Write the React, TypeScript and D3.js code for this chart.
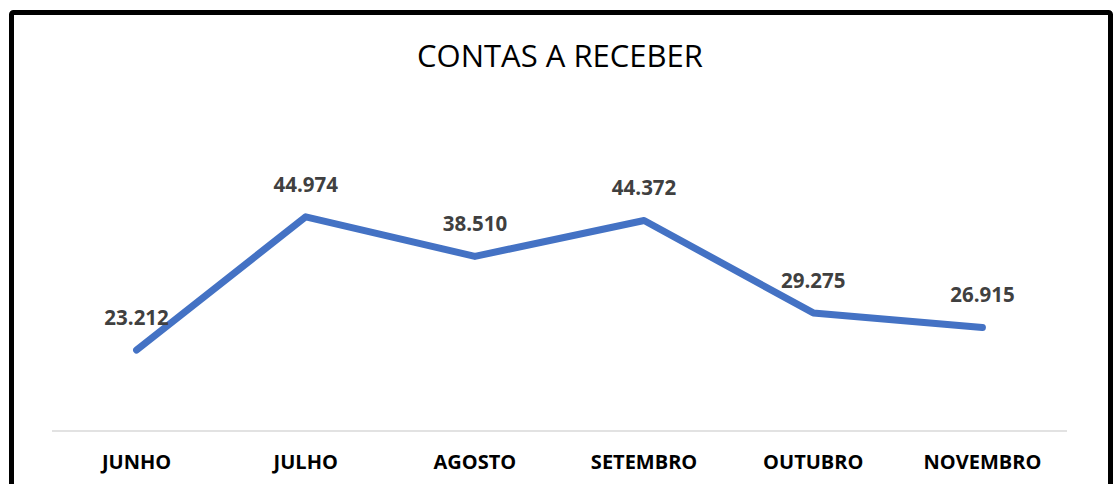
import React from 'react';
import * as d3 from 'd3';

const months = ['JUNHO', 'JULHO', 'AGOSTO', 'SETEMBRO', 'OUTUBRO', 'NOVEMBRO'];
const values = [23.212, 44.974, 38.51, 44.372, 29.275, 26.915];
const valueLabels = ['23.212', '44.974', '38.510', '44.372', '29.275', '26.915'];

const width = 1114;
const height = 484;
// plot area, value axis is hidden (min 10, max 50)
const plot = { left: 52, right: 1067, top: 186, bottom: 431 };

const App = () => {
    const x = d3.scaleBand<string>()
        .domain(months)
        .range([plot.left, plot.right]);

    const y = d3.scaleLinear()
        .domain([10, 50])
        .range([plot.bottom, plot.top]);

    const cx = (m: string) => (x(m) as number) + x.bandwidth() / 2;

    const line = d3.line<number>()
        .x((d, i) => cx(months[i]))
        .y(d => y(d));

    return (
        <svg
            width={width}
            height={height}
            style={{ position: 'absolute', left: 0, top: 0, background: '#fff' }}
        >
            <rect x={11.5} y={12.5} width={1099} height={520} rx={2}
                fill="#fff" stroke="#000" strokeWidth={5} />

            <text x={560} y={67} textAnchor="middle"
                fontFamily="'Open Sans', sans-serif" fontSize={31} fill="#000">
                CONTAS A RECEBER
            </text>

            <line x1={plot.left} x2={plot.right} y1={plot.bottom} y2={plot.bottom}
                stroke="#d9d9d9" strokeWidth={1.5} />

            {months.map(m => (
                <text key={m} x={cx(m)} y={468.5} textAnchor="middle"
                    fontFamily="'Open Sans', sans-serif" fontWeight="bold"
                    fontSize={20} fill="#000">
                    {m}
                </text>
            ))}

            <path d={line(values) || ''} fill="none" stroke="#4472c4"
                strokeWidth={7} strokeLinecap="round" strokeLinejoin="round" />

            {values.map((v, i) => (
                <text key={i} x={cx(months[i])} y={y(v) - 25} textAnchor="middle"
                    fontFamily="'Open Sans', sans-serif" fontWeight="bold"
                    fontSize={20.5} fill="#404040">
                    {valueLabels[i]}
                </text>
            ))}
        </svg>
    );
};

export default App;
